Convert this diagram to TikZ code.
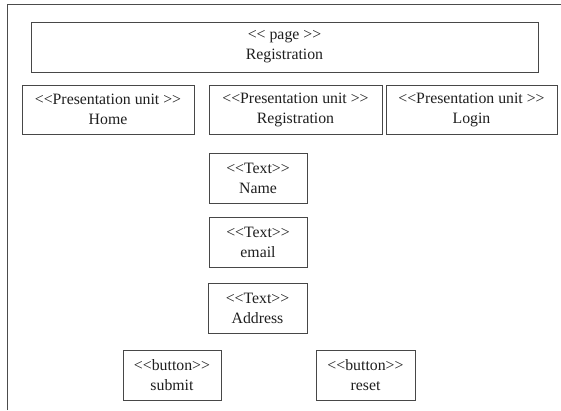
\documentclass[tikz,border=0pt]{standalone}
\usepackage{fontspec}
\setmainfont{Liberation Serif}
\usetikzlibrary{shadows}
\begin{document}
\begin{tikzpicture}[x=1pt,y=-1pt,
  box/.style={draw=black!72, line width=0.8pt, fill=white, inner sep=0pt,
    align=center, text=black!88, font=\fontsize{15.8}{20}\selectfont,
    drop shadow={shadow xshift=0.9pt, shadow yshift=-0.9pt, opacity=0.35, fill=black!60}},
  frame/.style={draw=black!70, line width=1pt},
]
\useasboundingbox (0,0) rectangle (561,410);
% open frame on the left and top
\draw[frame] (7,410) -- (7,4) -- (561,4);

% page
\node[box, minimum width=507, minimum height=50] (page) at (284.5,47) {<{}< page >{}>\\Registration};

% presentation units
\node[box, minimum width=172, minimum height=49] (home) at (108,109.5) {<{}<Presentation unit >{}>\\Home};
\node[box, minimum width=173, minimum height=49] (regpu) at (295.5,109.5) {<{}<Presentation unit >{}>\\Registration};
\node[box, minimum width=171, minimum height=49] (login) at (471.5,109.5) {<{}<Presentation unit >{}>\\Login};

% text fields
\node[box, minimum width=98, minimum height=50] (name) at (258,178) {<{}<Text>{}>\\Name};
\node[box, minimum width=98, minimum height=50] (email) at (258,242) {<{}<Text>{}>\\email};
\node[box, minimum width=99, minimum height=50] (address) at (257.5,308) {<{}<Text>{}>\\Address};

% buttons
\node[box, minimum width=98, minimum height=50] (submit) at (172,375) {<{}<button>{}>\\submit};
\node[box, minimum width=99, minimum height=50] (reset) at (365.5,375) {<{}<button>{}>\\reset};
\end{tikzpicture}
\end{document}
